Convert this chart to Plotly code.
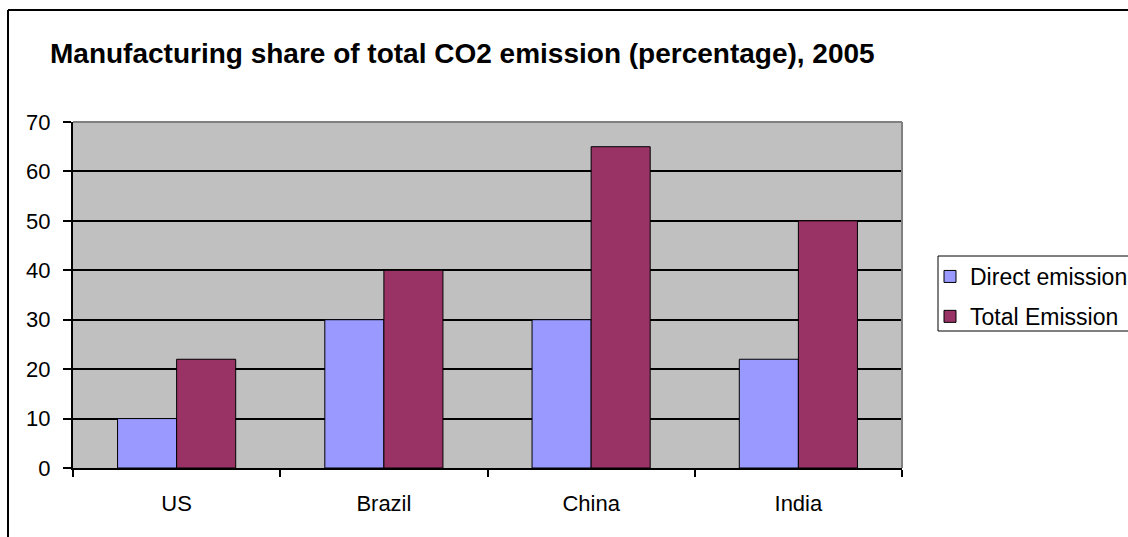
import plotly.graph_objects as go

countries = ["US", "Brazil", "China", "India"]
direct_emission = [10, 30, 30, 22]
total_emission = [22, 40, 65, 50]
y_ticks = [0, 10, 20, 30, 40, 50, 60, 70]

W, H = 1128, 537
L, R, T, B = 73, 902, 122, 468  # plot area in pixels


def px_x(x):
    return (x - L) / (R - L)


def px_y(y):
    return (B - y) / (B - T)


FONT = "Liberation Sans, Arial, sans-serif"

fig = go.Figure()
fig.add_trace(go.Bar(
    name="Direct emission", x=countries, y=direct_emission, legendgroup="a",
    marker=dict(color="#9999FF", line=dict(color="black", width=1)),
))
fig.add_trace(go.Bar(
    name="Total Emission", x=countries, y=total_emission, legendgroup="b",
    marker=dict(color="#993366", line=dict(color="black", width=1)),
))

shapes = [
    # outer chart frame (top and left edges visible)
    dict(type="line", xref="paper", yref="paper", x0=px_x(8), x1=px_x(1200),
         y0=px_y(10), y1=px_y(10), line=dict(color="black", width=2)),
    dict(type="line", xref="paper", yref="paper", x0=px_x(8), x1=px_x(8),
         y0=px_y(10), y1=px_y(600), line=dict(color="black", width=2)),
    # grey top/right plot-area border
    dict(type="line", xref="paper", yref="paper", x0=0, x1=1, y0=1, y1=1,
         line=dict(color="#808080", width=2)),
    dict(type="line", xref="paper", yref="paper", x0=1, x1=1, y0=0, y1=1,
         line=dict(color="#808080", width=2)),
    # legend frame
    dict(type="rect", xref="paper", yref="paper", x0=px_x(938), x1=px_x(1140),
         y0=px_y(331), y1=px_y(256), line=dict(color="black", width=1)),
]

fig.update_layout(
    width=W, height=H,
    margin=dict(l=L, r=W - R, t=T, b=H - B, autoexpand=False),
    paper_bgcolor="white",
    plot_bgcolor="#C0C0C0",
    font=dict(family=FONT, size=22, color="black"),
    title=dict(
        text="<b>Manufacturing share of total CO2 emission (percentage), 2005</b>",
        font=dict(family=FONT, size=28, color="black"),
        xref="container", yref="container",
        x=50 / W, xanchor="left", y=1 - 53 / H, yanchor="middle",
    ),
    barmode="group", bargap=0.43, bargroupgap=0,
    showlegend=True,
    legend=dict(
        x=px_x(930), xanchor="left", y=px_y(296.5), yanchor="middle",
        bgcolor="rgba(0,0,0,0)", borderwidth=0,
        font=dict(family=FONT, size=23, color="black"),
        tracegroupgap=7, itemwidth=30,
    ),
    shapes=shapes,
    xaxis=dict(
        showline=True, linecolor="black", linewidth=2,
        ticks="outside", tickson="boundaries", ticklen=7, tickcolor="black", tickwidth=2,
        showgrid=False, ticklabelstandoff=15,
        tickfont=dict(family=FONT, size=22, color="black"),
    ),
    yaxis=dict(
        range=[0, 70], tickvals=y_ticks,
        showline=True, linecolor="black", linewidth=2,
        ticks="outside", ticklen=8, tickcolor="black", tickwidth=2,
        showgrid=True, gridcolor="black", gridwidth=2, zeroline=False,
        ticklabelstandoff=8,
        tickfont=dict(family=FONT, size=22, color="black"),
    ),
)

fig.write_html("out.html")
